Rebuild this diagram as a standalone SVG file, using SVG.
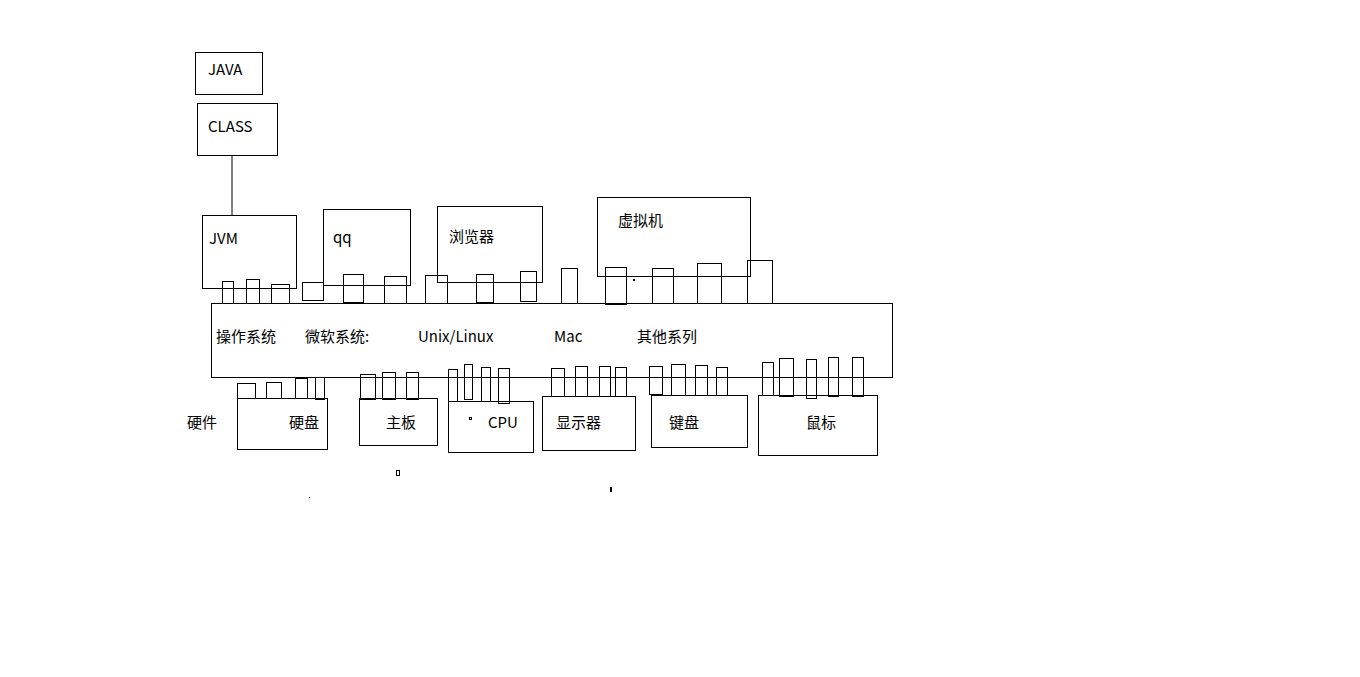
<svg xmlns="http://www.w3.org/2000/svg" width="1360" height="677" viewBox="0 0 1360 677">
<style>
rect{fill:none;stroke:#000;stroke-width:1}
text{font-family:"Noto Sans CJK SC","Liberation Sans",sans-serif;font-size:15px;fill:#000}
</style>
<rect x="0" y="0" width="1360" height="677" style="fill:#fff;stroke:none"/>
<g id="connectors"><line x1="232" y1="155" x2="232" y2="215" stroke="#000"/></g>
<g id="java"><rect x="195.5" y="52.5" width="67" height="42"/><text x="208" y="75">JAVA</text></g>
<g id="class"><rect x="197.5" y="103.5" width="80" height="52"/><text x="208" y="132">CLASS</text></g>
<g id="jvm"><rect x="202.5" y="215.5" width="94" height="73"/><text x="209" y="244">JVM</text></g>
<g id="qq"><rect x="323.5" y="209.5" width="87" height="76"/><text x="333" y="243">qq</text></g>
<g id="browser"><rect x="437.5" y="206.5" width="105" height="76"/><text x="449" y="242">浏览器</text></g>
<g id="vm"><rect x="597.5" y="197.5" width="153" height="79"/><text x="618" y="226">虚拟机</text></g>
<g id="apps-pins">
<rect x="222.5" y="281.5" width="11" height="22"/><rect x="246.5" y="279.5" width="13" height="24"/><rect x="271.5" y="284.5" width="18" height="19"/>
<rect x="302.5" y="282.5" width="21" height="18"/><rect x="343.5" y="274.5" width="20" height="28"/><rect x="384.5" y="276.5" width="22" height="27"/>
<rect x="425.5" y="275.5" width="22" height="28"/><rect x="476.5" y="274.5" width="17" height="28"/><rect x="520.5" y="271.5" width="16" height="30"/>
<rect x="561.5" y="268.5" width="16" height="35"/><rect x="605.5" y="267.5" width="21" height="37"/><rect x="652.5" y="268.5" width="21" height="35"/>
<rect x="697.5" y="263.5" width="24" height="40"/><rect x="747.5" y="260.5" width="25" height="43"/>
<rect x="633.5" y="279.5" width="1" height="1"/>
</g>
<g id="os"><rect x="211.5" y="303.5" width="681" height="74"/>
<text x="216" y="342">操作系统</text><text x="305" y="342">微软系统:</text><text x="418" y="342">Unix/Linux</text><text x="554" y="342">Mac</text><text x="637" y="342">其他系列</text></g>
<g id="hardware-label"><text x="187" y="428">硬件</text></g>
<g id="disk"><rect x="237.5" y="398.5" width="90" height="51"/><text x="289" y="428">硬盘</text></g>
<g id="board"><rect x="359.5" y="398.5" width="78" height="47"/><text x="386" y="428">主板</text></g>
<g id="cpu"><rect x="448.5" y="401.5" width="85" height="51"/><text x="488" y="428">CPU</text><rect x="469.5" y="417.5" width="2" height="2"/></g>
<g id="display"><rect x="542.5" y="396.5" width="93" height="54"/><text x="556" y="428">显示器</text></g>
<g id="keyboard"><rect x="651.5" y="395.5" width="96" height="52"/><text x="669" y="428">键盘</text></g>
<g id="mouse"><rect x="758.5" y="395.5" width="119" height="60"/><text x="806" y="428">鼠标</text></g>
<g id="hw-pins">
<rect x="237.5" y="383.5" width="18" height="15"/><rect x="266.5" y="382.5" width="15" height="16"/><rect x="295.5" y="378.5" width="12" height="20"/><rect x="315.5" y="377.5" width="9" height="22"/>
<rect x="360.5" y="374.5" width="15" height="25"/><rect x="382.5" y="372.5" width="13" height="27"/><rect x="406.5" y="372.5" width="12" height="27"/>
<rect x="448.5" y="369.5" width="9" height="32"/><rect x="464.5" y="364.5" width="8" height="35"/><rect x="481.5" y="367.5" width="9" height="34"/><rect x="498.5" y="368.5" width="11" height="35"/>
<rect x="551.5" y="368.5" width="13" height="28"/><rect x="575.5" y="366.5" width="12" height="30"/><rect x="599.5" y="366.5" width="11" height="30"/><rect x="615.5" y="367.5" width="11" height="29"/>
<rect x="649.5" y="366.5" width="13" height="28"/><rect x="671.5" y="364.5" width="14" height="31"/><rect x="695.5" y="365.5" width="12" height="30"/><rect x="716.5" y="367.5" width="11" height="28"/>
<rect x="762.5" y="362.5" width="11" height="33"/><rect x="779.5" y="358.5" width="14" height="38"/><rect x="806.5" y="359.5" width="10" height="39"/><rect x="828.5" y="357.5" width="10" height="39"/><rect x="852.5" y="357.5" width="11" height="39"/>
<rect x="396.5" y="470.5" width="3" height="5"/>
<rect x="309" y="497" width="1" height="1" style="fill:#000;stroke:none"/>
<rect x="610" y="487" width="2" height="5" style="fill:#000;stroke:none"/>
</g>
</svg>
